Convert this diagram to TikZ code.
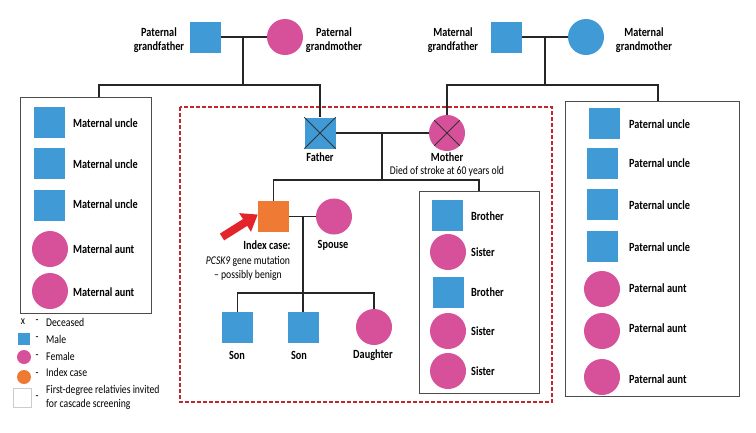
\documentclass[tikz,border=0pt]{standalone}
\usepackage{fontspec}
\setmainfont{Carlito}[FakeStretch=0.82]
\usetikzlibrary{arrows.meta}
\definecolor{maleblue}{HTML}{3F9AD6}
\definecolor{femalepink}{HTML}{D6509A}
\definecolor{indexorange}{HTML}{EF7A33}
\definecolor{arrowred}{HTML}{E3242B}
\definecolor{screenred}{HTML}{C1272D}
\begin{document}
\begin{tikzpicture}[x=1pt,y=-1pt,%
% common options for the squares:
male/.style = {rectangle, fill=maleblue, minimum size=31pt, inner sep=0},
% common options for the circles:
female/.style = {circle, fill=femalepink, minimum size=36pt, inner sep=0},
% labels and plain text:
lbl/.style = {font=\bfseries\fontsize{12.5}{14}\selectfont, inner sep=0, align=center},
txt/.style = {font=\fontsize{11.8}{13.5}\selectfont, inner sep=0, align=left},
famblock/.style = {draw=black!70, line width=0.9pt, inner sep=0},
line/.style = {draw=black!85, line width=1.1pt}]
\useasboundingbox (0,0) rectangle (756,432);
% grandparents
\node[male] (pgf) at (205,37) {};
\node[female] (pgm) at (285,37) {};
\node[lbl] (pgfl) at (159,40) {Paternal\\grandfather};
\node[lbl] (pgml) at (334,40) {Paternal\\grandmother};
\node[male] (mgf) at (506,37) {};
\node[female, fill=maleblue] (mgm) at (586,37) {};
\node[lbl] (mgfl) at (453,40) {Maternal\\grandfather};
\node[lbl] (mgml) at (644,40) {Maternal\\grandmother};
% relatives boxes
\node[famblock, minimum width=131pt, minimum height=216pt] (lbox) at (85.5,205) {};
\node[famblock, minimum width=174pt, minimum height=295pt] (rbox) at (652,248.5) {};
\node[famblock, minimum width=120pt, minimum height=202pt] (sbox) at (479,292) {};
\draw[screenred, line width=1.3pt, dash pattern=on 4pt off 2pt] (180,107) rectangle (552,402);
% left box
\node[male] (lu1) at (49.5,122.5) {};
\node[male] (lu2) at (49.5,163.5) {};
\node[male] (lu3) at (49.5,205) {};
\node[female] (la1) at (50,249) {};
\node[female] (la2) at (50,291) {};
\node[lbl, anchor=west] (lu1l) at (73,123) {Maternal uncle};
\node[lbl, anchor=west] (lu2l) at (73,164) {Maternal uncle};
\node[lbl, anchor=west] (lu3l) at (73,204) {Maternal uncle};
\node[lbl, anchor=west] (la1l) at (73,249) {Maternal aunt};
\node[lbl, anchor=west] (la2l) at (73,292) {Maternal aunt};
% right box
\node[male] (ru1) at (604.5,123.5) {};
\node[male] (ru2) at (602.5,163) {};
\node[male] (ru3) at (602.5,204.5) {};
\node[male] (ru4) at (602.5,246) {};
\node[female] (ra1) at (602,289) {};
\node[female] (ra2) at (602,331) {};
\node[female] (ra3) at (602,377) {};
\node[lbl, anchor=west] (ru1l) at (629,124) {Paternal uncle};
\node[lbl, anchor=west] (ru2l) at (629,163) {Paternal uncle};
\node[lbl, anchor=west] (ru3l) at (629,205) {Paternal uncle};
\node[lbl, anchor=west] (ru4l) at (629,247) {Paternal uncle};
\node[lbl, anchor=west] (ra1l) at (629,288) {Paternal aunt};
\node[lbl, anchor=west] (ra2l) at (629,328) {Paternal aunt};
\node[lbl, anchor=west] (ra3l) at (629,379) {Paternal aunt};
% parents
\node[male] (father) at (320,133) {};
\node[female] (mother) at (447,133) {};
\draw[black!80, line width=0.9pt] (father.north west) -- (father.south east)
  (father.north east) -- (father.south west);
\draw[black!80, line width=0.9pt] (mother.north west) -- (mother.south east)
  (mother.north east) -- (mother.south west);
\node[lbl] (fatherl) at (320,157) {Father};
\node[lbl] (motherl) at (447,157) {Mother};
\node[txt] (motherd) at (447,171) {Died of stroke at 60 years old};
% index case and own family
\node[male, fill=indexorange] (index) at (273.5,216.5) {};
\node[female] (spouse) at (334,216.5) {};
\node[lbl] (indexl) at (267,245) {Index case:};
\node[txt, align=center] (indexd) at (248,268.5) {\textit{PCSK9} gene mutation\\– possibly benign};
\node[lbl] (spousel) at (333,245) {Spouse};
\node[male] (son1) at (237.5,327.5) {};
\node[male] (son2) at (303,327.5) {};
\node[female] (daughter) at (374,327) {};
\node[lbl] (son1l) at (237,355) {Son};
\node[lbl] (son2l) at (299,355) {Son};
\node[lbl] (daughterl) at (373,355) {Daughter};
\coordinate (arrowstart) at (222,237);
\draw[arrowred, line width=8pt, -{Triangle[length=15pt,width=21pt]}] (arrowstart) -- ([yshift=2pt]index.west);
% siblings
\node[male] (sib1) at (447.5,215) {};
\node[female] (sib2) at (448,252) {};
\node[male] (sib3) at (448.5,292.5) {};
\node[female] (sib4) at (448,331) {};
\node[female] (sib5) at (448,371) {};
\node[lbl, anchor=west] (sib1l) at (471,216) {Brother};
\node[lbl, anchor=west] (sib2l) at (471,252) {Sister};
\node[lbl, anchor=west] (sib3l) at (471,292) {Brother};
\node[lbl, anchor=west] (sib4l) at (471,331) {Sister};
\node[lbl, anchor=west] (sib5l) at (471,371) {Sister};
% connectors
\coordinate (pjoin) at (243,37);
\coordinate (pbar) at (243,85);
\coordinate (mjoin) at (545,37);
\coordinate (mbar) at (545,85);
\coordinate (fjoin) at (382,133);
\coordinate (fbar) at (382,180);
\coordinate (cjoin) at (303,216.5);
\coordinate (cbar) at (303,293);
\draw[line] (pgf) -- (pgm);
\draw[line] (pjoin) -- (pbar);
\draw[line] ([xshift=13.5pt]lbox.north) |- (pbar) -| (father.north);
\draw[line] (mgf) -- (mgm);
\draw[line] (mjoin) -- (mbar);
\draw[line] (mother.north) |- (mbar) -| ([xshift=6pt]rbox.north);
\draw[line] (father) -- (mother);
\draw[line] (fjoin) -- (fbar);
\draw[line] (index.north) |- (fbar) -| (sbox.north);
\draw[line] (index) -- (spouse);
\draw[line] (cjoin) -- (son2.north);
\draw[line] (son1.north) |- (cbar) -| (daughter.north);
% legend
\node[txt] (lgx) at (23,322) {x};
\node[male, minimum size=12pt] (lgm) at (24,339) {};
\node[female, minimum size=14pt] (lgf) at (24,357) {};
\node[female, fill=indexorange, minimum size=14pt] (lgi) at (24,377) {};
\node[draw=black!20, line width=0.6pt, minimum width=18pt, minimum height=19pt, inner sep=0] (lgb) at (22,397.5) {};
\node[txt] (lgxd) at (37,322) {-};
\node[txt] (lgmd) at (37,339) {-};
\node[txt] (lgfd) at (37,357) {-};
\node[txt] (lgid) at (37,375) {-};
\node[txt] (lgbd) at (37,398) {-};
\node[txt, anchor=west] (lgxl) at (46,322) {Deceased};
\node[txt, anchor=west] (lgml) at (46,339) {Male};
\node[txt, anchor=west] (lgfl) at (46,356) {Female};
\node[txt, anchor=west] (lgil) at (46,372) {Index case};
\node[txt, anchor=west] (lgbl) at (46,397.5) {First-degree relativies invited\\for cascade screening};
\end{tikzpicture}
\end{document}
